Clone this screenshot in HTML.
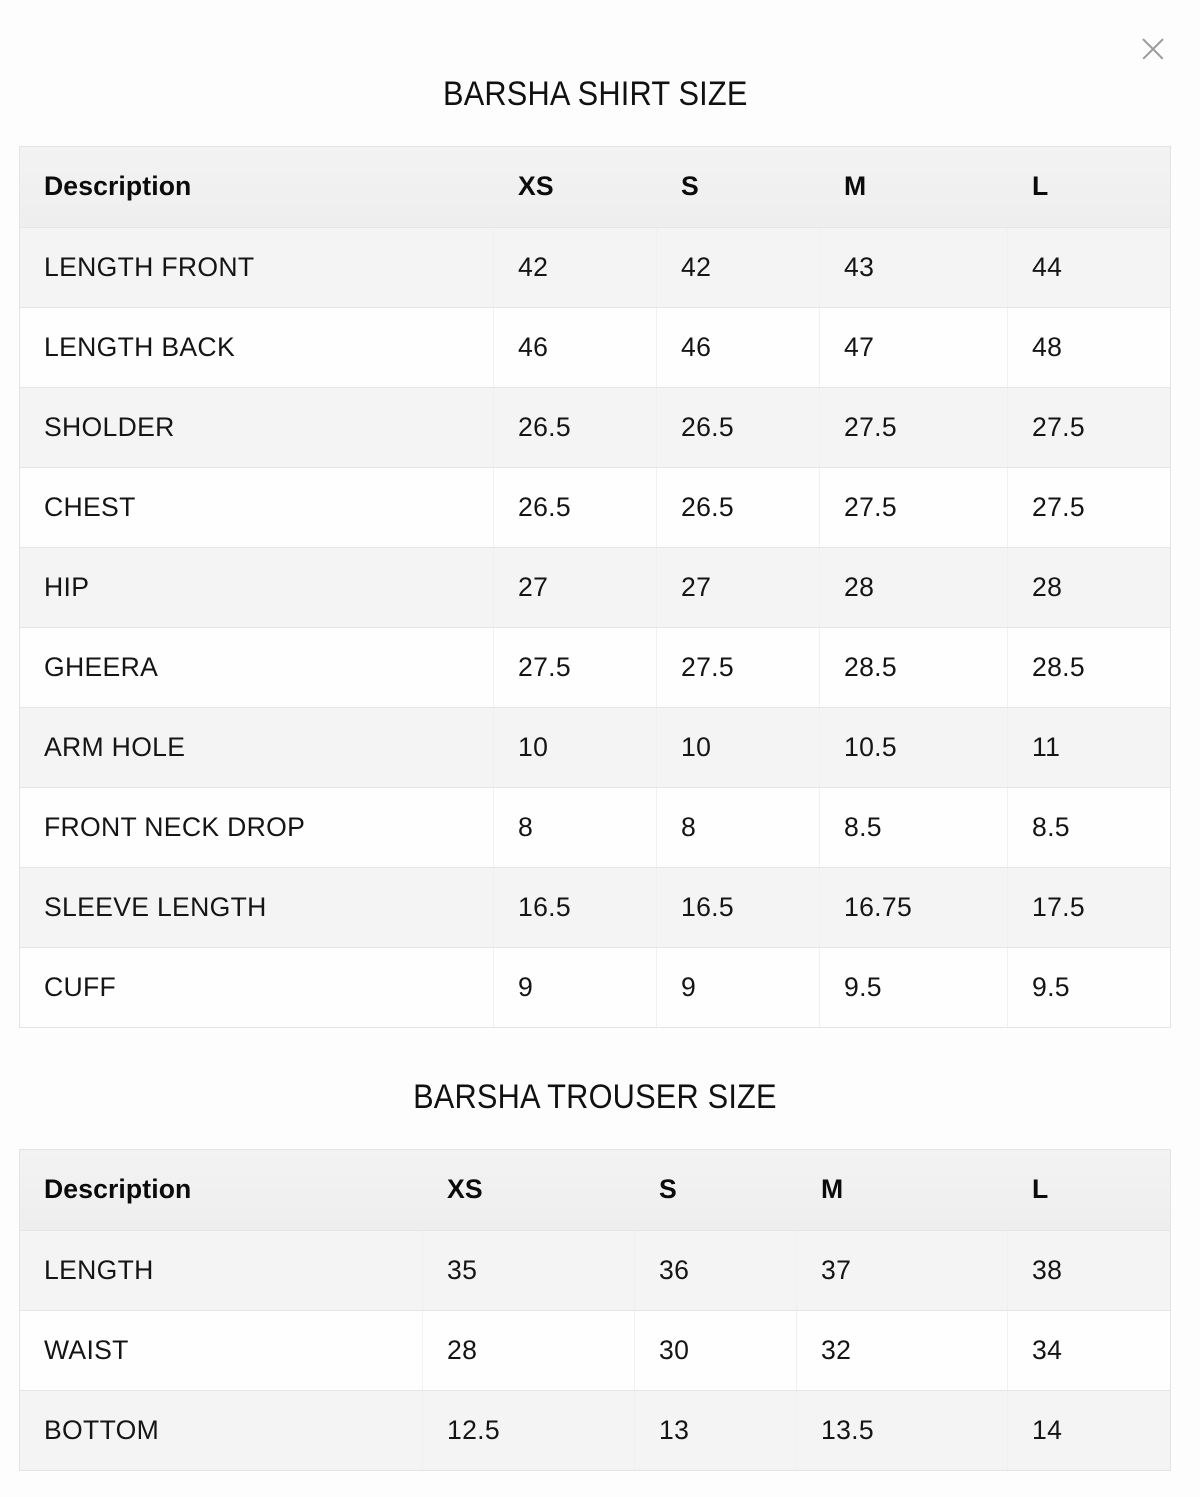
<!DOCTYPE html>
<html>
<head>
<meta charset="utf-8">
<style>
  html, body { margin:0; padding:0; }
  body { width:1200px; height:1497px; background:#fdfdfd; position:relative; overflow:hidden;
         font-family:"Liberation Sans", Arial, sans-serif; color:#151515; }
  .title { position:absolute; left:0; width:1190px; text-align:center; font-size:34px; line-height:34px;
           color:#111; white-space:nowrap; }
  .title span { display:inline-block; transform:scaleX(0.905); transform-origin:center; letter-spacing:0.2px; }
  .tbl { position:absolute; left:20px; width:1150px; background:#fff; box-shadow:0 0 0 1px #e4e4e4; }
  .row { display:flex; height:80px; border-top:1px solid #e6e6e6; box-sizing:border-box; }
  .row:first-child { border-top:none; }
  .row.g { background:#f4f4f4; }
  .row.w { background:#fefefe; }
  .row.h { background:linear-gradient(#f3f3f3,#eeeeee); font-weight:bold; color:#0b0b0b; }
  .c { box-sizing:border-box; padding-left:24px; font-size:26.6px; line-height:79px; letter-spacing:0.3px;
       border-left:1px solid #f0f0f0; white-space:nowrap; }
  .c:first-child { border-left:none; }
  .row.h .c { border-left-color:transparent; letter-spacing:0.1px; }
  .close { position:absolute; left:1142px; top:38px; width:22px; height:22px; }
  .close:before, .close:after { content:""; position:absolute; left:-3px; top:10px; width:28px; height:1.6px; background:#9a9a9a; }
  .close:before { transform:rotate(45deg); }
  .close:after { transform:rotate(-45deg); }
  .s1 { width:473px; } .s2 { width:163px; } .s3 { width:163px; } .s4 { width:188px; } .s5 { width:163px; }
  .t1 { width:402px; } .t2 { width:212px; } .t3 { width:162px; } .t4 { width:211px; } .t5 { width:163px; }
</style>
</head>
<body>
  <div class="close"></div>

  <div class="title" style="top:77px;"><span>BARSHA SHIRT SIZE</span></div>

  <div class="tbl" style="top:147px; height:880px;">
    <div class="row h"><div class="c s1">Description</div><div class="c s2">XS</div><div class="c s3">S</div><div class="c s4">M</div><div class="c s5">L</div></div>
    <div class="row g"><div class="c s1">LENGTH FRONT</div><div class="c s2">42</div><div class="c s3">42</div><div class="c s4">43</div><div class="c s5">44</div></div>
    <div class="row w"><div class="c s1">LENGTH BACK</div><div class="c s2">46</div><div class="c s3">46</div><div class="c s4">47</div><div class="c s5">48</div></div>
    <div class="row g"><div class="c s1">SHOLDER</div><div class="c s2">26.5</div><div class="c s3">26.5</div><div class="c s4">27.5</div><div class="c s5">27.5</div></div>
    <div class="row w"><div class="c s1">CHEST</div><div class="c s2">26.5</div><div class="c s3">26.5</div><div class="c s4">27.5</div><div class="c s5">27.5</div></div>
    <div class="row g"><div class="c s1">HIP</div><div class="c s2">27</div><div class="c s3">27</div><div class="c s4">28</div><div class="c s5">28</div></div>
    <div class="row w"><div class="c s1">GHEERA</div><div class="c s2">27.5</div><div class="c s3">27.5</div><div class="c s4">28.5</div><div class="c s5">28.5</div></div>
    <div class="row g"><div class="c s1">ARM HOLE</div><div class="c s2">10</div><div class="c s3">10</div><div class="c s4">10.5</div><div class="c s5">11</div></div>
    <div class="row w"><div class="c s1">FRONT NECK DROP</div><div class="c s2">8</div><div class="c s3">8</div><div class="c s4">8.5</div><div class="c s5">8.5</div></div>
    <div class="row g"><div class="c s1">SLEEVE LENGTH</div><div class="c s2">16.5</div><div class="c s3">16.5</div><div class="c s4">16.75</div><div class="c s5">17.5</div></div>
    <div class="row w"><div class="c s1">CUFF</div><div class="c s2">9</div><div class="c s3">9</div><div class="c s4">9.5</div><div class="c s5">9.5</div></div>
  </div>

  <div class="title" style="top:1080px;"><span>BARSHA TROUSER SIZE</span></div>

  <div class="tbl" style="top:1150px; height:320px;">
    <div class="row h"><div class="c t1">Description</div><div class="c t2">XS</div><div class="c t3">S</div><div class="c t4">M</div><div class="c t5">L</div></div>
    <div class="row g"><div class="c t1">LENGTH</div><div class="c t2">35</div><div class="c t3">36</div><div class="c t4">37</div><div class="c t5">38</div></div>
    <div class="row w"><div class="c t1">WAIST</div><div class="c t2">28</div><div class="c t3">30</div><div class="c t4">32</div><div class="c t5">34</div></div>
    <div class="row g"><div class="c t1">BOTTOM</div><div class="c t2">12.5</div><div class="c t3">13</div><div class="c t4">13.5</div><div class="c t5">14</div></div>
  </div>
</body>
</html>
